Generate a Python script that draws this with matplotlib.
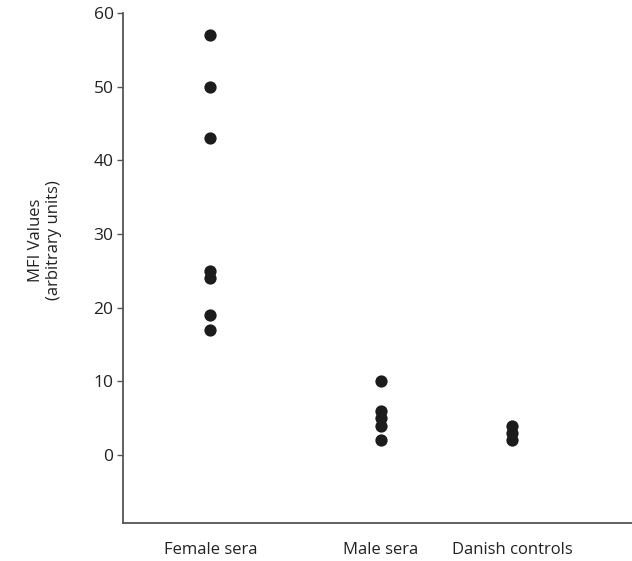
import matplotlib
matplotlib.use("Agg")
import matplotlib.pyplot as plt

plt.rcParams["font.family"] = ["Open Sans", "DejaVu Sans"]

groups = ["Female sera", "Male sera", "Danish controls"]
female = [57, 50, 43, 25, 24, 19, 17]
male = [10, 6, 5, 4, 2]
danish = [4, 3, 2]
y_ticks = [0, 10, 20, 30, 40, 50, 60]

# uneven spacing of the groups as in the original figure
group_x = [1.0, 2.0, 2.77]

fig = plt.figure(figsize=(6.32, 5.61), dpi=100)
ax = fig.add_axes([0.195, 0.068, 0.805, 0.909])

for xpos, vals in zip(group_x, [female, male, danish]):
    ax.scatter([xpos] * len(vals), vals, s=78, color="#1c1c1c", zorder=3, linewidths=0)

ax.set_xlim(0.49, 3.47)
ax.set_ylim(-9.2, 60)
ax.set_yticks(y_ticks)
ax.set_xticks(group_x)
ax.set_xticklabels(groups)
ax.tick_params(axis="x", length=0, pad=14, labelsize=12, colors="#222222")
ax.tick_params(axis="y", length=4, width=1, pad=3, labelsize=12.5, colors="#555555", labelcolor="#222222")

for side in ["top", "right"]:
    ax.spines[side].set_visible(False)
for side in ["left", "bottom"]:
    ax.spines[side].set_color("#555555")
    ax.spines[side].set_linewidth(1.3)

ax.set_ylabel("MFI Values\n(arbitrary units)", fontsize=12, color="#222222")
ax.yaxis.set_label_coords(-0.12, 0.555)

fig.savefig("out.png", dpi=100)
